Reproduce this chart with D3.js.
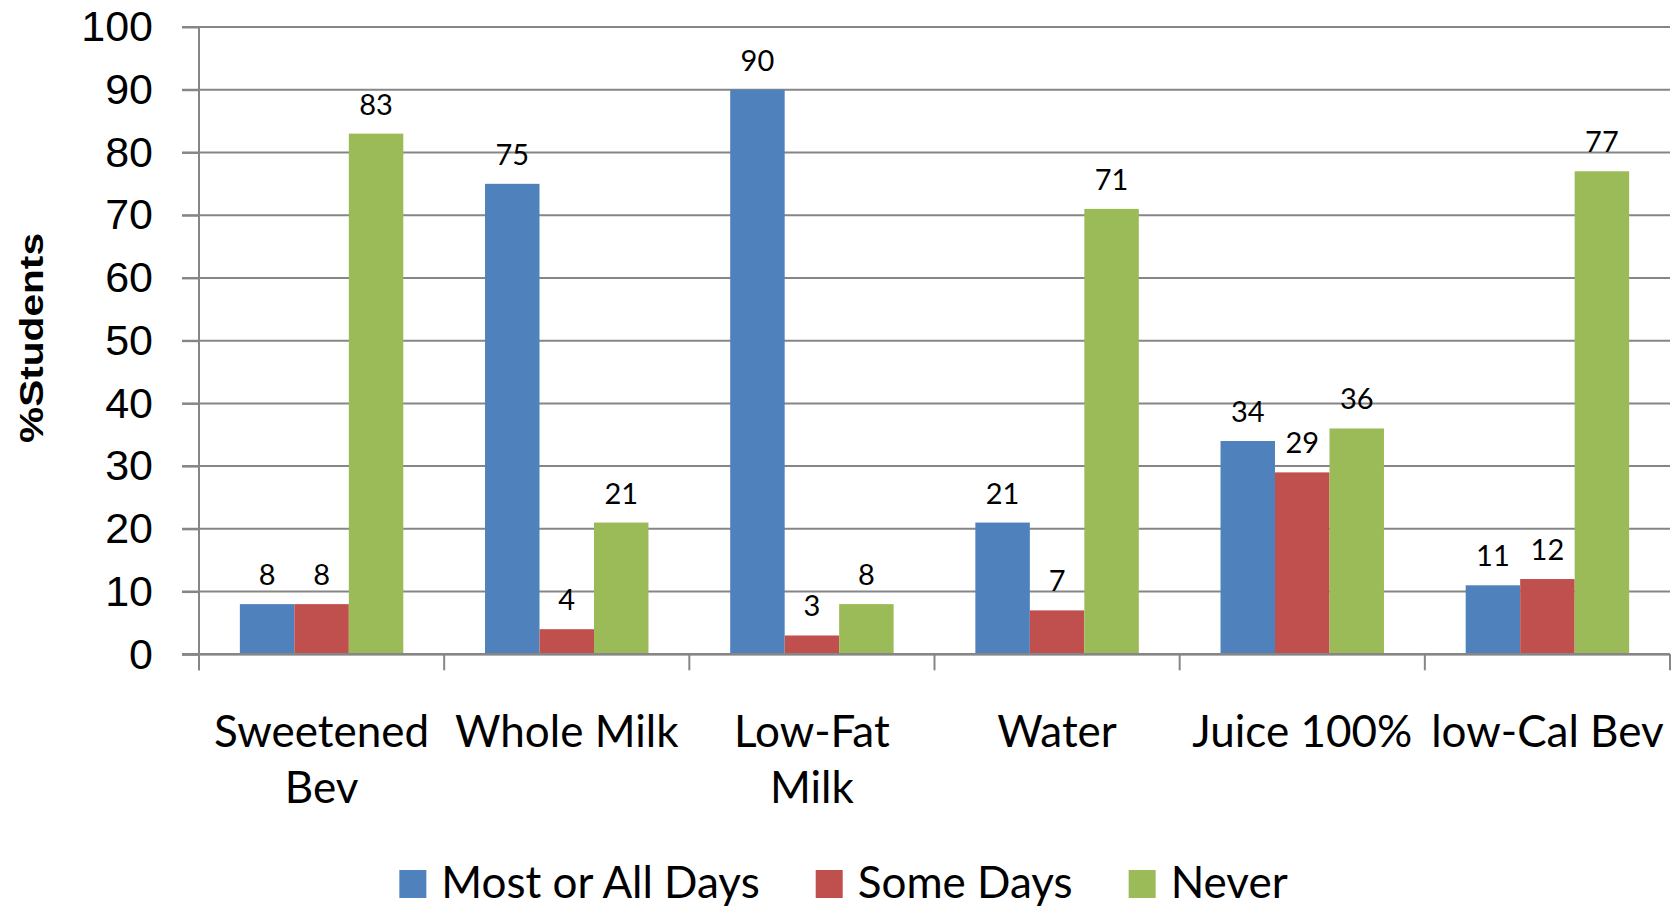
<!DOCTYPE html>
<html>
<head>
<meta charset="utf-8">
<script src="https://cdn.jsdelivr.net/npm/d3@7"></script>
<style>
  html, body { margin: 0; padding: 0; background: #ffffff; }
  svg { display: block; }
</style>
</head>
<body>
<svg id="chart" width="1673" height="906"></svg>
<script>
// ---- data ----
const categories = ["Sweetened Bev", "Whole Milk", "Low-Fat Milk", "Water", "Juice 100%", "low-Cal Bev"];
const categoryLines = [["Sweetened", "Bev"], ["Whole Milk"], ["Low-Fat", "Milk"], ["Water"], ["Juice 100%"], ["low-Cal Bev"]];
const seriesNames = ["Most or All Days", "Some Days", "Never"];
const mostOrAllDays = [8, 75, 90, 21, 34, 11];
const someDays = [8, 4, 3, 7, 29, 12];
const never = [83, 21, 8, 71, 36, 77];
const yTicks = [0, 10, 20, 30, 40, 50, 60, 70, 80, 90, 100];
const colors = ["#4F81BD", "#C0504D", "#9BBB59"];
const yTitle = "%Students";

(function () {
const seriesValues = [mostOrAllDays, someDays, never];

// ---- layout ----
const svg = d3.select("#chart");
const pLeft = 199, pRight = 1670, pTop = 27, pBottom = 654.3;
const gridColor = "#868686";

const x = d3.scaleBand().domain(categories).range([pLeft, pRight]).paddingInner(0).paddingOuter(0);
const xs = d3.scaleBand().domain(seriesNames).range([0, x.bandwidth()]).paddingInner(0).paddingOuter(0.75);
const y = d3.scaleLinear().domain([0, 100]).range([pBottom, pTop]);

// gridlines
svg.append("g").selectAll("line").data(yTicks).join("line")
  .attr("x1", pLeft - 17).attr("x2", pRight)
  .attr("y1", d => y(d)).attr("y2", d => y(d))
  .attr("stroke", gridColor).attr("stroke-width", 2);

// y axis labels via d3 axis
const yAxis = svg.append("g").attr("transform", `translate(${pLeft},0)`)
  .call(d3.axisLeft(y).tickValues(yTicks).tickSize(17).tickPadding(29).tickFormat(d3.format("d")));
yAxis.select(".domain").remove();
yAxis.selectAll(".tick line").attr("stroke", gridColor).attr("stroke-width", 2);
yAxis.selectAll(".tick text")
  .attr("font-family", "'Liberation Sans', Arial, sans-serif")
  .attr("font-size", 43).attr("fill", "#000");

// y axis line
svg.append("line").attr("x1", pLeft).attr("x2", pLeft).attr("y1", pTop).attr("y2", pBottom + 16)
  .attr("stroke", gridColor).attr("stroke-width", 2);

// x axis tick marks at band boundaries
const boundaries = categories.map(c => x(c)).concat([x(categories[categories.length - 1]) + x.bandwidth()]);
svg.append("g").selectAll("line").data(boundaries).join("line")
  .attr("x1", d => d).attr("x2", d => d)
  .attr("y1", pBottom).attr("y2", pBottom + 16)
  .attr("stroke", gridColor).attr("stroke-width", 2);

// bars
const barData = [];
categories.forEach((c, i) => {
  seriesNames.forEach((s, j) => {
    barData.push({ c, s, j, v: seriesValues[j][i] });
  });
});
svg.append("g").selectAll("rect").data(barData).join("rect")
  .attr("x", d => x(d.c) + xs(d.s))
  .attr("width", xs.bandwidth())
  .attr("y", d => y(d.v))
  .attr("height", d => y(0) - y(d.v))
  .attr("fill", d => colors[d.j]);

// x axis baseline (over bars)
svg.append("line").attr("x1", pLeft - 17).attr("x2", pRight).attr("y1", pBottom).attr("y2", pBottom)
  .attr("stroke", gridColor).attr("stroke-width", 2.5);

// data labels
svg.append("g").selectAll("text").data(barData).join("text")
  .attr("x", d => x(d.c) + xs(d.s) + xs.bandwidth() / 2)
  .attr("y", d => y(d.v) - 19)
  .attr("text-anchor", "middle")
  .attr("font-family", "Lato, sans-serif")
  .attr("font-size", 29)
  .attr("fill", "#000")
  .text(d => d.v);

// category labels
const catG = svg.append("g");
categories.forEach((c, i) => {
  const t = catG.append("text")
    .attr("x", x(c) + x.bandwidth() / 2)
    .attr("y", 746.7)
    .attr("text-anchor", "middle")
    .attr("font-family", "Lato, sans-serif")
    .attr("font-size", 44)
    .attr("fill", "#000");
  categoryLines[i].forEach((line, k) => {
    t.append("tspan").attr("x", x(c) + x.bandwidth() / 2).attr("dy", k === 0 ? 0 : 56).text(line);
  });
});

// y title
svg.append("text")
  .attr("transform", "translate(43,338) rotate(-90)")
  .attr("text-anchor", "middle")
  .attr("font-family", "'Liberation Sans', Arial, sans-serif")
  .attr("font-weight", "bold")
  .attr("font-size", 33)
  .attr("textLength", 210)
  .attr("lengthAdjust", "spacingAndGlyphs")
  .attr("fill", "#000")
  .text(yTitle);

// legend
const legend = svg.append("g");
let cursor = 0;
seriesNames.forEach((s, j) => {
  const g = legend.append("g");
  g.append("rect").attr("x", cursor).attr("y", -28).attr("width", 27).attr("height", 28).attr("fill", colors[j]);
  const t = g.append("text").attr("x", cursor + 42).attr("y", 0)
    .attr("font-family", "Lato, sans-serif").attr("font-size", 44).attr("fill", "#000").text(s);
  const w = t.node().getComputedTextLength();
  cursor += 42 + w + (j < seriesNames.length - 1 ? 56 : 0);
});
const legendCenter = 843.5;
legend.attr("transform", `translate(${legendCenter - cursor / 2},898)`);
})();
</script>
</body>
</html>
